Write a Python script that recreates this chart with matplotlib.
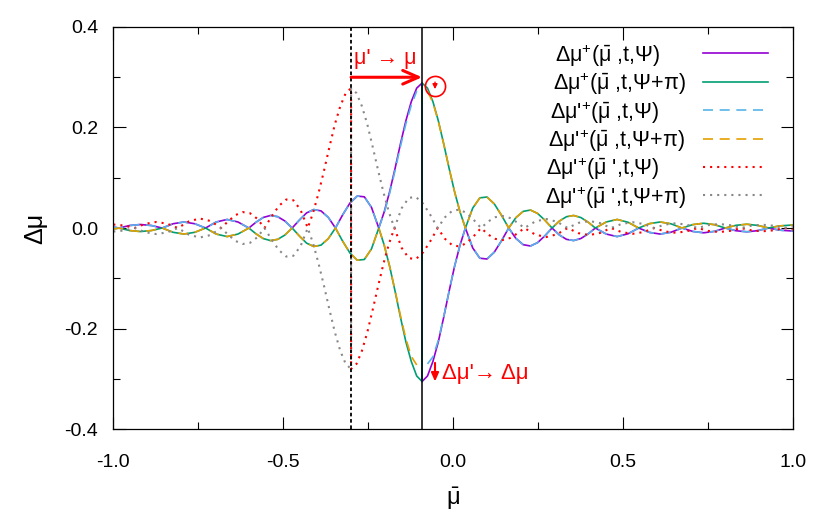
import matplotlib
matplotlib.use('Agg')
import matplotlib.pyplot as plt
from matplotlib.lines import Line2D
import numpy as np

plt.rcParams['font.family'] = ['Liberation Sans', 'DejaVu Sans']
plt.rcParams['axes.unicode_minus'] = False
plt.rcParams['mathtext.fontset'] = 'custom'
plt.rcParams['mathtext.rm'] = 'Liberation Sans'
plt.rcParams['mathtext.it'] = 'Liberation Sans'
plt.rcParams['mathtext.bf'] = 'Liberation Sans:bold'

nan = np.nan

# mu-bar grid for the curves centred on the solid line
mubar = [-1.0,
         -0.9835, -0.952, -0.920, -0.888,
         -0.856, -0.824, -0.792, -0.760,
         -0.7285, -0.697, -0.665, -0.633,
         -0.601, -0.580, -0.5585, -0.537, -0.516, -0.495,
         -0.4735, -0.452, -0.431, -0.410, -0.3885, -0.367,
         -0.346, -0.325, -0.3035, -0.282, -0.261, -0.240,
         -0.2185, -0.2026, -0.1866, -0.1707, -0.1548, -0.1388, -0.1229, -0.1069, -0.091,
         -0.091, -0.0751, -0.0591, -0.0432, -0.0273, -0.0113, 0.0046, 0.0206,
         0.0365, 0.058, 0.079, 0.100, 0.1215, 0.143,
         0.164, 0.185, 0.2065, 0.228, 0.249, 0.270,
         0.2915, 0.313, 0.334, 0.355, 0.3765, 0.398,
         0.419, 0.451, 0.483, 0.515,
         0.5465, 0.578, 0.610, 0.642,
         0.674, 0.706, 0.738, 0.770,
         0.8015, 0.833, 0.865, 0.897,
         0.929, 0.961, 1.0]

dmu_psi = [0.002,
           0.0, 0.005, 0.007, 0.005,
           0.0, 0.0085, 0.012, 0.0085,
           0.0, 0.012, 0.017, 0.012,
           0.0, 0.0115, 0.021, 0.025, 0.0225, 0.014,
           0.0, 0.016, 0.030, 0.0367, 0.034, 0.021,
           0.0, 0.026, 0.0495, 0.0635, 0.062, 0.041,
           0.0, 0.032, 0.072, 0.118, 0.167, 0.213, 0.251, 0.278, 0.288,
           -0.305, -0.294, -0.265, -0.226, -0.177, -0.125, -0.076, -0.034,
           0.0, -0.0396, -0.060, -0.0616, -0.048, -0.025,
           0.0, -0.0206, -0.0331, -0.0357, -0.029, -0.0158,
           0.0, -0.0138, -0.0225, -0.0249, -0.0208, -0.0115,
           0.0, -0.012, -0.017, -0.0115,
           0.0, -0.0087, -0.012, -0.0083,
           0.0, -0.0068, -0.0095, -0.0066,
           0.0, -0.0054, -0.0075, -0.0052,
           0.0, -0.0042, -0.006]

dmu_psi_pi = [-0.002,
              0.0, -0.005, -0.007, -0.005,
              0.0, -0.0085, -0.012, -0.0085,
              0.0, -0.012, -0.017, -0.012,
              0.0, -0.0115, -0.021, -0.025, -0.0225, -0.014,
              0.0, -0.016, -0.030, -0.0367, -0.034, -0.021,
              0.0, -0.026, -0.0495, -0.064, -0.0625, -0.0415,
              0.0, -0.034, -0.076, -0.125, -0.177, -0.226, -0.265, -0.294, -0.305,
              0.288, 0.278, 0.251, 0.213, 0.167, 0.118, 0.072, 0.032,
              0.0, 0.0396, 0.060, 0.0616, 0.048, 0.025,
              0.0, 0.0206, 0.0331, 0.0357, 0.029, 0.0158,
              0.0, 0.0138, 0.0225, 0.0249, 0.0208, 0.0115,
              0.0, 0.012, 0.017, 0.0115,
              0.0, 0.0087, 0.012, 0.0083,
              0.0, 0.0068, 0.0095, 0.0066,
              0.0, 0.0054, 0.0075, 0.0052,
              0.0, 0.0042, 0.006]

dmup_psi = [0.002,
            0.0, 0.005, 0.007, 0.005,
            0.0, 0.0085, 0.012, 0.0085,
            0.0, 0.012, 0.017, 0.012,
            0.0, 0.0115, 0.021, 0.025, 0.0225, 0.014,
            0.0, 0.016, 0.030, 0.0367, 0.034, 0.021,
            0.0, 0.026, 0.0495, 0.0635, 0.062, 0.041,
            0.0, 0.030, 0.069, 0.114, 0.162, 0.207, 0.244, 0.272, nan,
            nan, -0.270, -0.256, -0.223, -0.176, -0.125, -0.076, -0.034,
            0.0, -0.0396, -0.060, -0.0616, -0.048, -0.025,
            0.0, -0.0206, -0.0331, -0.0357, -0.029, -0.0158,
            0.0, -0.0138, -0.0225, -0.0249, -0.0208, -0.0115,
            0.0, -0.012, -0.017, -0.0115,
            0.0, -0.0087, -0.012, -0.0083,
            0.0, -0.0068, -0.0095, -0.0066,
            0.0, -0.0054, -0.0075, -0.0052,
            0.0, -0.0042, -0.006]

dmup_psi_pi = [-0.002,
               0.0, -0.005, -0.007, -0.005,
               0.0, -0.0085, -0.012, -0.0085,
               0.0, -0.012, -0.017, -0.012,
               0.0, -0.0115, -0.021, -0.025, -0.0225, -0.014,
               0.0, -0.016, -0.030, -0.0367, -0.034, -0.021,
               0.0, -0.026, -0.0495, -0.064, -0.0625, -0.0415,
               0.0, -0.034, -0.076, -0.124, -0.174, -0.220, -0.255, -0.272, nan,
               nan, 0.272, 0.249, 0.212, 0.167, 0.118, 0.072, 0.032,
               0.0, 0.0396, 0.060, 0.0616, 0.048, 0.025,
               0.0, 0.0206, 0.0331, 0.0357, 0.029, 0.0158,
               0.0, 0.0138, 0.0225, 0.0249, 0.0208, 0.0115,
               0.0, 0.012, 0.017, 0.0115,
               0.0, 0.0087, 0.012, 0.0083,
               0.0, 0.0068, 0.0095, 0.0066,
               0.0, 0.0054, 0.0075, 0.0052,
               0.0, 0.0042, 0.006]

# mu-bar' grid for the curves centred on the dotted line
mubar_p = [-1.0, -0.969,
           -0.9375, -0.906, -0.874, -0.842,
           -0.81, -0.778, -0.746, -0.714,
           -0.6825, -0.661, -0.640, -0.619, -0.5975, -0.576,
           -0.555, -0.534, -0.5125, -0.491, -0.470, -0.449,
           -0.4275, -0.4116, -0.3956, -0.3797, -0.3638, -0.3478, -0.3319, -0.3159, -0.300,
           -0.300, -0.2841, -0.2681, -0.2522, -0.2363, -0.2203, -0.2044, -0.1884,
           -0.1725, -0.151, -0.130, -0.109, -0.0875, -0.066,
           -0.045, -0.024, -0.0025, 0.019, 0.040, 0.061,
           0.0825, 0.104, 0.125, 0.146, 0.1675, 0.189,
           0.210, 0.242, 0.274, 0.306,
           0.3375, 0.369, 0.401, 0.433,
           0.465, 0.497, 0.529, 0.561,
           0.5925, 0.624, 0.656, 0.688,
           0.720, 0.752, 0.784, 0.816,
           0.8475, 0.879, 0.911, 0.943,
           0.975, 1.0]

dmup_p_psi = [0.007, 0.005,
              0.0, 0.0083, 0.012, 0.0088,
              0.0, 0.013, 0.019, 0.014,
              0.0, 0.014, 0.0258, 0.0317, 0.0294, 0.0183,
              0.0, 0.023, 0.044, 0.0567, 0.0552, 0.0364,
              0.0, 0.031, 0.070, 0.114, 0.161, 0.206, 0.242, 0.268, 0.278,
              -0.280, -0.270, -0.244, -0.207, -0.162, -0.115, -0.070, -0.031,
              0.0, -0.0396, -0.060, -0.0616, -0.048, -0.0252,
              0.0, -0.0212, -0.034, -0.0367, -0.0298, -0.0162,
              0.0, -0.0132, -0.0216, -0.0239, -0.020, -0.011,
              0.0, -0.013, -0.018, -0.0125,
              0.0, -0.0102, -0.014, -0.0098,
              0.0, -0.0083, -0.0115, -0.008,
              0.0, -0.0069, -0.0095, -0.0066,
              0.0, -0.0058, -0.008, -0.0056,
              0.0, -0.0047, -0.0065, -0.0046,
              0.0, -0.003]

dmup_p_psi_pi = [-0.007, -0.005,
                 0.0, -0.0083, -0.012, -0.0088,
                 0.0, -0.013, -0.019, -0.014,
                 0.0, -0.014, -0.0258, -0.0317, -0.0294, -0.0183,
                 0.0, -0.023, -0.044, -0.0567, -0.0552, -0.0364,
                 0.0, -0.031, -0.071, -0.115, -0.162, -0.207, -0.244, -0.270, -0.280,
                 0.278, 0.268, 0.242, 0.206, 0.161, 0.114, 0.070, 0.031,
                 0.0, 0.0396, 0.060, 0.0616, 0.048, 0.0252,
                 0.0, 0.0212, 0.034, 0.0367, 0.0298, 0.0162,
                 0.0, 0.0132, 0.0216, 0.0239, 0.020, 0.011,
                 0.0, 0.013, 0.018, 0.0125,
                 0.0, 0.0102, 0.014, 0.0098,
                 0.0, 0.0083, 0.0115, 0.008,
                 0.0, 0.0069, 0.0095, 0.0066,
                 0.0, 0.0058, 0.008, 0.0056,
                 0.0, 0.0047, 0.0065, 0.0046,
                 0.0, 0.003]

labels = ['Δμ$^{+}$($\\bar{\\mu}$ ,t,Ψ)', 'Δμ$^{+}$($\\bar{\\mu}$ ,t,Ψ+π)',
          "Δμ'$^{+}$($\\bar{\\mu}$ ,t,Ψ)", "Δμ'$^{+}$($\\bar{\\mu}$ ,t,Ψ+π)",
          "Δμ'$^{+}$($\\bar{\\mu}$ ',t,Ψ)", "Δμ'$^{+}$($\\bar{\\mu}$ ',t,Ψ+π)"]

xticks = [-1.0, -0.5, 0.0, 0.5, 1.0]
xtick_labels = ['-1.0', '-0.5', '0.0', '0.5', '1.0']
xminor = [-0.75, -0.25, 0.25, 0.75]
yticks = [-0.4, -0.2, 0.0, 0.2, 0.4]
ytick_labels = ['-0.4', '-0.2', '0.0', '0.2', '0.4']
yminor = [-0.3, -0.1, 0.1, 0.3]

# positions of the two reference lines
mu_line = -0.091
mup_line = -0.30

purple = '#9400d3'
green = '#009e73'
blue = '#56b4e9'
orange = '#e69f00'
red = '#ff0000'
grey = '#888888'

solid = '-'
dashed = (0, (6, 4))
dotted = (0, (1, 2.4))

series = [
    (mubar, dmu_psi, purple, solid, 1.2),
    (mubar, dmu_psi_pi, green, solid, 1.2),
    (mubar, dmup_psi, blue, dashed, 1.2),
    (mubar, dmup_psi_pi, orange, dashed, 1.2),
    (mubar_p, dmup_p_psi, red, dotted, 1.5),
    (mubar_p, dmup_p_psi_pi, grey, dotted, 1.5),
]

fig = plt.figure(figsize=(8.3, 5.19), dpi=100)
ax = fig.add_axes([0.1365, 0.1728, 0.8186, 0.7757])


def ax_frac(px, py):
    # pixel position in the 830x519 picture -> axes fraction
    return (px - 113.3) / 679.4, (429.3 - py) / 402.6


for x, y, c, ls, lw in series:
    ax.plot(x, y, color=c, ls=ls, lw=lw)

ax.axvline(mu_line, color='black', lw=1.1, zorder=5)
ax.axvline(mup_line, color='black', lw=1.3, ls=(0, (2, 1.5)), zorder=5)

# legend, gnuplot style (text left of the sample line)
key_text_x = [555, 553, 550, 548, 546, 545]
key_row_y = [55.5, 84, 112.5, 140.8, 169.2, 197.5]
for i, (x, y, c, ls, lw) in enumerate(series):
    tx, ty = ax_frac(key_text_x[i], key_row_y[i])
    ax.text(tx, ty, labels[i], transform=ax.transAxes, fontsize=15.5,
            ha='left', va='center')
    x0, _ = ax_frac(703, 0)
    x1, _ = ax_frac(768 if ls != dotted else 765, 0)
    _, ly = ax_frac(0, key_row_y[i] - 2.3)
    ax.add_line(Line2D([x0, x1], [ly, ly], transform=ax.transAxes,
                       color=c, ls=ls, lw=lw, clip_on=False))

# annotations
ax.annotate('', xy=(mu_line, 0.2996), xytext=(mup_line, 0.2996),
            arrowprops=dict(arrowstyle='->,head_length=0.8,head_width=0.35',
                            color=red, lw=2.2, mutation_scale=14,
                            shrinkA=0, shrinkB=0), zorder=6)
ax.text(-0.292, 0.336, "μ' → μ", color=red, fontsize=15.5,
        ha='left', va='center')
ax.plot([-0.053], [0.283], 'o', ms=14.5, mfc='none', mec=red, mew=1.2)
ax.annotate('', xy=(-0.053, 0.276), xytext=(-0.053, 0.290),
            arrowprops=dict(arrowstyle='-|>,head_length=0.4,head_width=0.2',
                            color=red, lw=1.0, mutation_scale=7,
                            shrinkA=0, shrinkB=0))
ax.annotate('', xy=(-0.053, -0.305), xytext=(-0.053, -0.268),
            arrowprops=dict(arrowstyle='-|>,head_length=0.5,head_width=0.22',
                            color=red, lw=1.5, mutation_scale=10,
                            shrinkA=0, shrinkB=0))
ax.text(-0.031, -0.290, "Δμ'→ Δμ", color=red, fontsize=16,
        ha='left', va='center')

ax.set_xlim(-1.0, 1.0)
ax.set_ylim(-0.4, 0.4)
ax.set_xticks(xticks)
ax.set_xticklabels(xtick_labels)
ax.set_xticks(xminor, minor=True)
ax.set_yticks(yticks)
ax.set_yticklabels(ytick_labels)
ax.set_yticks(yminor, minor=True)
ax.tick_params(which='both', direction='in', top=True, right=True,
               width=0.8, labelsize=14)
ax.tick_params(which='major', length=9)
ax.tick_params(which='minor', length=5)
ax.tick_params(axis='x', pad=18)
ax.tick_params(axis='y', pad=11)
for s in ax.spines.values():
    s.set_linewidth(0.9)

ax.set_xlabel('$\\bar{\\mu}$', fontsize=17, labelpad=10)
ax.set_ylabel('Δμ', fontsize=18, labelpad=12)

fig.savefig('out.png', dpi=100)
